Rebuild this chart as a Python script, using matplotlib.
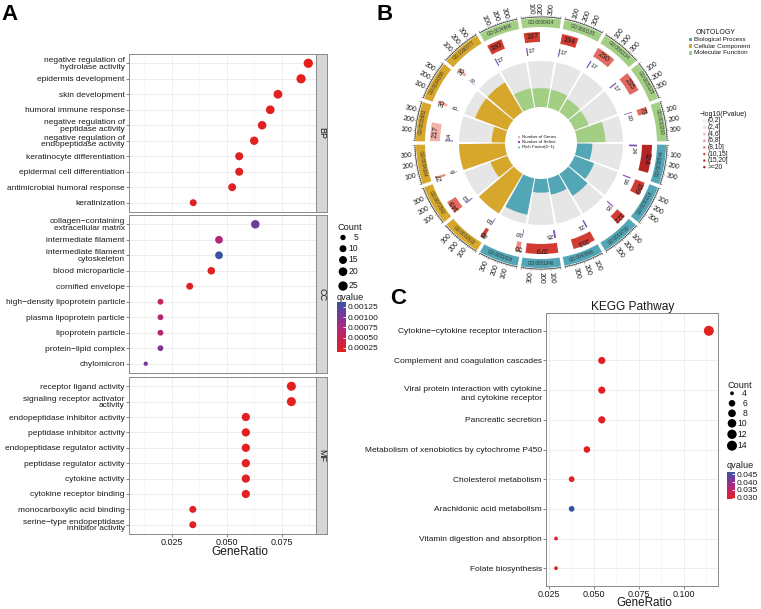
import numpy as np
import matplotlib
matplotlib.use("Agg")
import matplotlib.pyplot as plt
from matplotlib.patches import Wedge, Rectangle
from matplotlib.colors import LinearSegmentedColormap, Normalize
from matplotlib.ticker import MultipleLocator, FormatStrFormatter
from matplotlib.cm import ScalarMappable
import matplotlib.transforms as mtransforms

plt.rcParams['font.family'] = ['Liberation Sans', 'DejaVu Sans']

W, H = 761, 609

# ---------------- Panel A data (GO dot plot) ----------------
bp_terms = ["negative regulation of\nhydrolase activity", "epidermis development", "skin development",
            "humoral immune response", "negative regulation of\npeptidase activity",
            "negative regulation of\nendopeptidase activity", "keratinocyte differentiation",
            "epidermal cell differentiation", "antimicrobial humoral response", "keratinization"]
bp_ratio = [0.0870, 0.0837, 0.0732, 0.0697, 0.0660, 0.0624, 0.0556, 0.0556, 0.0524, 0.0347]
bp_count = [25, 24, 21, 20, 19, 18, 16, 16, 15, 10]
bp_q = [0.00015, 0.00015, 0.00016, 0.00016, 0.00016, 0.00017, 0.00018, 0.00018, 0.00019, 0.0002]

cc_terms = ["collagen\u2212containing\nextracellular matrix", "intermediate filament",
            "intermediate filament\ncytoskeleton", "blood microparticle", "cornified envelope",
            "high\u2212density lipoprotein particle", "plasma lipoprotein particle",
            "lipoprotein particle", "protein\u2212lipid complex", "chylomicron"]
cc_ratio = [0.0629, 0.0464, 0.0464, 0.0429, 0.0331, 0.0198, 0.0198, 0.0198, 0.0198, 0.0131]
cc_count = [19, 14, 14, 13, 10, 6, 6, 6, 6, 4]
cc_q = [0.00112, 0.00072, 0.00137, 0.00018, 0.0002, 0.00052, 0.00068, 0.00068, 0.00098, 0.00105]

mf_terms = ["receptor ligand activity", "signaling receptor activator\nactivity",
            "endopeptidase inhibitor activity", "peptidase inhibitor activity",
            "endopeptidase regulator activity", "peptidase regulator activity", "cytokine activity",
            "cytokine receptor binding", "monocarboxylic acid binding",
            "serine\u2212type endopeptidase\ninhibitor activity"]
mf_ratio = [0.0793, 0.0793, 0.0586, 0.0586, 0.0586, 0.0586, 0.0586, 0.0586, 0.0345, 0.0345]
mf_count = [23, 23, 17, 17, 17, 17, 17, 17, 10, 10]
mf_q = [0.00015, 0.00015, 0.00016, 0.00016, 0.00016, 0.00016, 0.00017, 0.00017, 0.0002, 0.0002]

# ---------------- Panel B data (GO circle) ----------------
go_ids = ["GO:0008544", "GO:0030216", "GO:0019730", "GO:0043588", "GO:0051346", "GO:0031424",
          "GO:0001533", "GO:0072562", "GO:0034364", "GO:0005882", "GO:0034358", "GO:1990777",
          "GO:0004866", "GO:0030414", "GO:0061135", "GO:0061134", "GO:0005125", "GO:0033293"]
go_onto = ["BP"] * 6 + ["CC"] * 6 + ["MF"] * 6
go_genes = [324, 159, 122, 263, 379, 56, 45, 149, 27, 217, 36, 36, 180, 187, 194, 230, 235, 73]
go_select = [24, 16, 15, 21, 25, 10, 10, 13, 6, 14, 6, 6, 17, 17, 17, 17, 17, 10]
go_logp = [16.5, 12.0, 11.5, 13.0, 12.5, 7.0, 11.0, 9.0, 7.0, 5.0, 5.0, 5.0, 11.0, 11.5, 12.0, 9.0, 9.5, 8.5]
logp_bins = ["(0,2]", "(2,4]", "(4,6]", "(6,8]", "(8,10]", "(10,15]", "(15,20]", ">=20"]
logp_edges = [2, 4, 6, 8, 10, 15, 20]

# ---------------- Panel C data (KEGG dot plot) ----------------
kegg_terms = ["Cytokine\u2212cytokine receptor interaction", "Complement and coagulation cascades",
              "Viral protein interaction with cytokine\nand cytokine receptor", "Pancreatic secretion",
              "Metabolism of xenobiotics by cytochrome P450", "Cholesterol metabolism",
              "Arachidonic acid metabolism", "Vitamin digestion and absorption", "Folate biosynthesis"]
kegg_ratio = [0.1140, 0.0543, 0.0543, 0.0543, 0.0460, 0.0375, 0.0375, 0.0288, 0.0288]
kegg_count = [14, 7, 7, 7, 6, 5, 5, 4, 4]
kegg_q = [0.0294, 0.0295, 0.0295, 0.0295, 0.0297, 0.0300, 0.0464, 0.0302, 0.0302]

# ---------------- helpers ----------------
def px_rect(x0, y0, x1, y1):
    return [x0 / W, 1 - y1 / H, (x1 - x0) / W, (y1 - y0) / H]

def area(d_px):
    return (d_px * 72 / 100) ** 2

def size_a(c):
    return 4.3 + 5.0 * np.sqrt((c - 4) / 21)

def size_c(c):
    return 3.8 + 6.2 * np.sqrt((c - 4) / 10)

q_cmap = LinearSegmentedColormap.from_list(
    'q', ['#E3201E', '#CB2350', '#A92A80', '#74399B', '#3853A6'])
TXT = '#1A1A1A'
LAB_FS = 6.0
TICK_FS = 6.5

fig = plt.figure(figsize=(W / 100, H / 100), dpi=100)

# ================= Panel A =================
norm_a = Normalize(0.00015, 0.00137)
facets = [("BP", bp_terms, bp_ratio, bp_count, bp_q, 54, 212),
          ("CC", cc_terms, cc_ratio, cc_count, cc_q, 215, 373),
          ("MF", mf_terms, mf_ratio, mf_count, mf_q, 377, 534)]
for k, (name, terms, ratio, count, q, top, bot) in enumerate(facets):
    ax = fig.add_axes(px_rect(129, top, 316, bot))
    ys = np.arange(len(terms), 0, -1)
    ax.scatter(ratio, ys, s=[area(size_a(c)) for c in count], c=q, cmap=q_cmap, norm=norm_a,
               edgecolors='none', zorder=3)
    ax.set_xlim(0.0055, 0.0905)
    ax.set_ylim(0.4, len(terms) + 0.6)
    ax.set_yticks(ys)
    ax.set_yticklabels(terms, fontsize=LAB_FS, linespacing=0.85, color=TXT)
    ax.xaxis.set_major_locator(MultipleLocator(0.025))
    ax.xaxis.set_minor_locator(MultipleLocator(0.0125))
    ax.xaxis.set_major_formatter(FormatStrFormatter('%.3f'))
    ax.grid(which='major', color='#EBEBEB', lw=0.6)
    ax.grid(which='minor', axis='x', color='#F3F3F3', lw=0.4)
    ax.set_axisbelow(True)
    for sp in ax.spines.values():
        sp.set_color('#8A8A8A')
        sp.set_linewidth(0.7)
    ax.tick_params(axis='both', length=2, width=0.5, color='#555555', pad=1, labelsize=TICK_FS,
                   labelcolor=TXT)
    ax.tick_params(axis='y', labelsize=LAB_FS)
    ax.tick_params(which='minor', length=0)
    if k < 2:
        ax.tick_params(axis='x', labelbottom=False, length=0)
    sax = fig.add_axes(px_rect(316, top, 327, bot))
    sax.set_facecolor('#D6D6D6')
    sax.set_xticks([])
    sax.set_yticks([])
    for sp in sax.spines.values():
        sp.set_color('#8A8A8A')
        sp.set_linewidth(0.7)
    sax.text(0.5, 0.5, name, rotation=-90, ha='center', va='center', fontsize=6.5, color=TXT,
             transform=sax.transAxes)

fig.text(240 / W, 1 - 552 / H, "GeneRatio", ha='center', va='center', fontsize=8.6, color=TXT)

# ================= Panel C =================
norm_c = Normalize(0.0293, 0.0464)
axc = fig.add_axes(px_rect(546, 313, 718, 586))
yc = np.arange(len(kegg_terms), 0, -1)
axc.scatter(kegg_ratio, yc, s=[area(size_c(c)) for c in kegg_count], c=kegg_q, cmap=q_cmap,
            norm=norm_c, edgecolors='none', zorder=3)
axc.set_xlim(0.0232, 0.1191)
axc.set_ylim(0.4, len(kegg_terms) + 0.6)
axc.set_yticks(yc)
labels_c = [t if "\n" not in t else "" for t in kegg_terms]
axc.set_yticklabels(labels_c, fontsize=LAB_FS, color=TXT)
trans = mtransforms.blended_transform_factory(axc.transAxes, axc.transData)
for t, y in zip(kegg_terms, yc):
    if "\n" in t:
        axc.text(-0.025, y + 0.15, t, ha='right', va='top', fontsize=LAB_FS, color=TXT,
                 transform=trans, linespacing=1.45, multialignment='right')
axc.xaxis.set_major_locator(MultipleLocator(0.025))
axc.xaxis.set_minor_locator(MultipleLocator(0.0125))
axc.xaxis.set_major_formatter(FormatStrFormatter('%.3f'))
axc.grid(which='major', color='#EBEBEB', lw=0.6)
axc.grid(which='minor', axis='x', color='#F3F3F3', lw=0.4)
axc.set_axisbelow(True)
for sp in axc.spines.values():
    sp.set_color('#8A8A8A')
    sp.set_linewidth(0.7)
axc.tick_params(axis='both', length=2, width=0.5, color='#555555', pad=0.8, labelsize=TICK_FS,
                labelcolor=TXT)
axc.tick_params(axis='y', labelsize=LAB_FS, pad=1)
axc.tick_params(which='minor', length=0)
fig.text(633 / W, 1 - 307 / H, "KEGG Pathway", ha='center', va='center', fontsize=8.6, color=TXT)
fig.text(644 / W, 1 - 597.5 / H, "GeneRatio", ha='center', va='top', fontsize=8.4, color=TXT)

# ================= overlay (panel B + legends) =================
ov = fig.add_axes([0, 0, 1, 1])
ov.set_xlim(0, W)
ov.set_ylim(0, H)
ov.axis('off')
ov.patch.set_alpha(0)

def Y(y):
    return H - y

# legends panel A
ov.text(337, Y(227), "Count", fontsize=6.6, va='center', ha='left', color=TXT)
for c, y in zip([5, 10, 15, 20, 25], [237.5, 248.7, 260, 271.7, 286]):
    ov.scatter([343], [Y(y)], s=area(size_a(c)), color='black', edgecolors='none')
    ov.text(358, Y(y), str(c), fontsize=6.2, va='center', ha='right', color=TXT)
ov.text(337, Y(297), "qvalue", fontsize=6.6, va='center', ha='left', color=TXT)
cax = fig.add_axes(px_rect(337, 302, 346, 352))
cb = fig.colorbar(ScalarMappable(norm_a, q_cmap), cax=cax,
                  ticks=[0.00025, 0.0005, 0.00075, 0.001, 0.00125], format='%.5f')
cb.outline.set_visible(False)
cax.tick_params(length=2, color='white', width=0.6, direction='in', labelsize=6.0, pad=1.2,
                labelcolor=TXT)

# legends panel C
ov.text(727, Y(385), "Count", fontsize=6.6, va='center', ha='left', color=TXT)
for c, y in zip([4, 6, 8, 10, 12, 14], [393.3, 403.3, 413.3, 423.3, 434.3, 445.7]):
    ov.scatter([732], [Y(y)], s=area(size_c(c)), color='black', edgecolors='none')
    ov.text(747, Y(y), str(c), fontsize=6.2, va='center', ha='right', color=TXT)
ov.text(727, Y(466), "qvalue", fontsize=6.6, va='center', ha='left', color=TXT)
cax2 = fig.add_axes(px_rect(727, 472, 735, 499))
cb2 = fig.colorbar(ScalarMappable(norm_c, q_cmap), cax=cax2,
                   ticks=[0.030, 0.035, 0.040, 0.045], format='%.3f')
cb2.outline.set_visible(False)
cax2.tick_params(length=2, color='white', width=0.6, direction='in', labelsize=6.0, pad=1.2,
                 labelcolor=TXT)

# ---- circle ----
onto_col = {"BP": "#52A6B6", "CC": "#D6A72B", "MF": "#A3CF84"}
bin_cols = ['#F7ECEA', '#F5D3CE', '#F0B2A9', '#EA8E82', '#E36A5E', '#D23C33', '#B52424', '#85131A']
cx, cy = 541, Y(143)
R_IN, R_TR = 36, 82
R_SEL = (88, 96)
R_GEN = (101, 111)
R_LAB = (116, 125)
XMAX = 400
SEC = 20.0
GAP = 0.8
PAD = 1.0
rich = np.array(go_select) / np.array(go_genes)
rich_max = rich.max()

def ang(i, x):
    a0 = -(SEC * i + PAD)
    a1 = -(SEC * (i + 1) - PAD)
    return a0 + (a1 - a0) * x / XMAX

def pol(r, th):
    t = np.deg2rad(th)
    return cx + r * np.cos(t), cy + r * np.sin(t)

for i in range(len(go_ids)):
    t_hi = -SEC * i - GAP
    t_lo = -SEC * (i + 1) + GAP
    col = onto_col[go_onto[i]]
    # rich factor track
    ov.add_patch(Wedge((cx, cy), R_TR, t_lo, t_hi, width=R_TR - R_IN, fc='#E6E6E6', ec='none'))
    h = (R_TR - R_IN) * rich[i] / rich_max
    ov.add_patch(Wedge((cx, cy), R_IN + h, t_lo, t_hi, width=h, fc=col, ec='none'))
    # selected genes
    ov.add_patch(Wedge((cx, cy), R_SEL[1], ang(i, go_select[i]), ang(i, 0),
                       width=R_SEL[1] - R_SEL[0], fc='#7E4FB5', ec='none'))
    tx, ty = pol((R_SEL[0] + R_SEL[1]) / 2, ang(i, go_select[i] + 6))
    ov.text(tx, ty, str(go_select[i]), fontsize=4.6, rotation=ang(i, go_select[i] + 6) - 90,
            rotation_mode='anchor', ha='left', va='center', color=TXT)
    # number of genes
    bidx = int(np.digitize(go_logp[i], logp_edges, right=True))
    ov.add_patch(Wedge((cx, cy), R_GEN[1], ang(i, go_genes[i]), ang(i, 0),
                       width=R_GEN[1] - R_GEN[0], fc=bin_cols[bidx], ec='none'))
    th = ang(i, go_genes[i] / 2)
    tx, ty = pol((R_GEN[0] + R_GEN[1]) / 2, th)
    ov.text(tx, ty, str(go_genes[i]), fontsize=5.2, rotation=th - 90, rotation_mode='anchor',
            ha='center', va='center', color=TXT)
    # label ring
    ov.add_patch(Wedge((cx, cy), R_LAB[1], t_lo, t_hi, width=R_LAB[1] - R_LAB[0], fc=col, ec='none'))
    th = (t_lo + t_hi) / 2
    rot = th - 90
    if np.cos(np.deg2rad(rot)) < 0:
        rot += 180
    tx, ty = pol((R_LAB[0] + R_LAB[1]) / 2, th)
    ov.text(tx, ty, go_ids[i], fontsize=3.3, rotation=rot, rotation_mode='anchor',
            ha='center', va='center', color='#333333')
    # axis arc with ticks
    arc_t = np.linspace(ang(i, 0), ang(i, XMAX), 40)
    ax_x, ax_y = pol(R_LAB[1] + 1, arc_t)
    ov.plot(ax_x, ax_y, color='#333333', lw=0.5)
    for v in range(0, XMAX + 1, 20):
        L = 2.0 if v % 100 == 0 else 1.0
        x0, y0 = pol(R_LAB[1] + 1, ang(i, v))
        x1, y1 = pol(R_LAB[1] + 1 + L, ang(i, v))
        ov.plot([x0, x1], [y0, y1], color='#333333', lw=0.3)
    for v in (100, 200, 300):
        th = ang(i, v)
        tx, ty = pol(R_LAB[1] + 4, th)
        if np.cos(np.deg2rad(th)) >= -1e-6:
            ov.text(tx, ty, str(v), fontsize=5.0, rotation=th, rotation_mode='anchor',
                    ha='left', va='center', color=TXT)
        else:
            ov.text(tx, ty, str(v), fontsize=5.0, rotation=th + 180, rotation_mode='anchor',
                    ha='right', va='center', color=TXT)

# centre legend
cent = [("Number of Genes", '#F2A5B8', 's'), ("Number of Select", '#7E4FB5', 's'),
        ("Rich Factor(0~1)", '#3BA7B5', '^')]
for j, (lab, col, mk) in enumerate(cent):
    yy = Y(137 + 5 * j)
    ov.scatter([519], [yy], s=3, marker=mk, color=col, edgecolors='none')
    ov.text(522.5, yy, lab, fontsize=3.2, va='center', ha='left', color=TXT)

# ontology legend
ov.text(696, Y(32), "ONTOLOGY", fontsize=5.0, va='center', ha='left', color=TXT)
for j, (key, lab) in enumerate([("BP", "Biological Process"), ("CC", "Cellular Component"),
                                ("MF", "Molecular Function")]):
    yy = Y(39.5 + 6.6 * j)
    ov.add_patch(Rectangle((688.5, yy - 1.8), 3.6, 3.6, fc=onto_col[key], ec='none'))
    ov.text(693.5, yy, lab, fontsize=4.6, va='center', ha='left', color=TXT)

ov.text(700, Y(114), "\u2212log10(Pvalue)", fontsize=5.0, va='center', ha='left', color=TXT)
for j, lab in enumerate(logp_bins):
    yy = Y(121 + 6.6 * j)
    ov.add_patch(Rectangle((702.5, yy - 1.8), 3.6, 3.6, fc='#F2F2F2', ec='none'))
    ov.scatter([704.3], [yy], s=2.5, color=bin_cols[j], edgecolors='none')
    ov.text(707.5, yy, lab, fontsize=4.8, va='center', ha='left', color=TXT)

# panel letters
for lab, x, y in [("A", 10, 15), ("B", 385, 15), ("C", 398, 299)]:
    ov.text(x, Y(y), lab, fontsize=16, fontweight='bold', ha='center', va='center', color='black')

fig.savefig("out.png", dpi=100)
